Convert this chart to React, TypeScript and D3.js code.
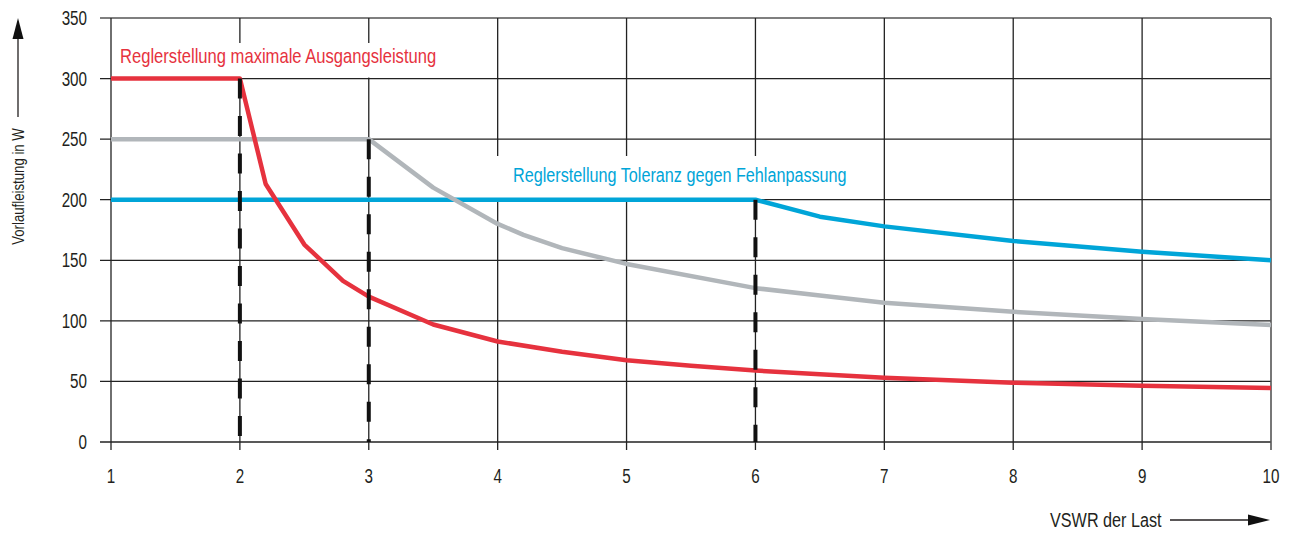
import React from "react";
import * as d3 from "d3";

const xTicks = [1, 2, 3, 4, 5, 6, 7, 8, 9, 10];
const yTicks = [0, 50, 100, 150, 200, 250, 300, 350];

const redSeries: [number, number][] = [
  [1, 300], [2, 300], [2.2, 213], [2.5, 163], [2.8, 133], [3, 120], [3.5, 97],
  [4, 83], [4.5, 74.5], [5, 67.5], [5.5, 63], [6, 59], [6.5, 56], [7, 53],
  [8, 49], [9, 46.5], [10, 44.5],
];
const greySeries: [number, number][] = [
  [1, 250], [3, 250], [3.5, 210], [4, 180], [4.2, 171], [4.5, 160], [5, 147],
  [6, 127], [6.5, 121], [7, 115], [8, 107.5], [9, 101.5], [10, 96.6],
];
const blueSeries: [number, number][] = [
  [1, 200], [6, 200], [6.5, 186], [7, 178], [8, 166], [9, 157], [10, 150],
];
// dashed limit markers: [VSWR, power from which the dashed line starts]
const limitMarkers: [number, number][] = [[2, 300], [3, 250], [6, 200]];

const redLabel = "Reglerstellung maximale Ausgangsleistung";
const blueLabel = "Reglerstellung Toleranz gegen Fehlanpassung";
const yTitle = "Vorlaufleistung in W";
const xTitle = "VSWR der Last";

const FONT = "'Liberation Sans', Arial, sans-serif";
const RED = "#e6323e";
const GREY = "#b1b6ba";
const BLUE = "#00a5d8";
const INK = "#231f20";

function NText(props: { x: number; y: number; rotate?: number; anchor?: string; size: number; fill: string; dy?: string; sx?: number; children: React.ReactNode }) {
  const { x, y, rotate = 0, anchor = "start", size, fill, dy, sx = 0.8, children } = props;
  return (
    <g transform={`translate(${x},${y}) rotate(${rotate}) scale(${sx},1)`}>
      <text x={0} y={0} dy={dy} textAnchor={anchor} fontSize={size} fill={fill}>{children}</text>
    </g>
  );
}

export default function App() {
  const W = 1292, H = 533;
  const x = d3.scaleLinear().domain([1, 10]).range([111, 1271]);
  const y = d3.scaleLinear().domain([0, 350]).range([442, 18]);
  const line = d3.line<[number, number]>().x(d => x(d[0])).y(d => y(d[1]));

  return (
    <svg width={W} height={H} style={{ position: "absolute", left: 0, top: 0, background: "#fff" }} fontFamily={FONT}>
      <rect width={W} height={H} fill="#fff" />
      {/* horizontal grid */}
      {yTicks.map(t => (
        <line key={"h" + t} x1={100} x2={x(10)} y1={y(t)} y2={y(t)}
          stroke={t === 350 ? "#555" : "#222"} strokeWidth={1.3} />
      ))}
      {/* vertical grid */}
      {xTicks.map(t => (
        <line key={"v" + t} x1={x(t)} x2={x(t)} y1={y(350)} y2={450}
          stroke={t === 10 ? "#555" : "#222"} strokeWidth={t === 10 ? 1.6 : 1.3} />
      ))}
      {/* label backgrounds */}
      <rect x={116} y={43} width={330} height={y(300) - 43 - 1} fill="#fff" />
      <rect x={490} y={156} width={365} height={y(200) - 156 - 1} fill="#fff" />
      <NText x={120} y={63} size={20} sx={0.83} fill={RED}>{redLabel}</NText>
      <NText x={513} y={182} size={20} sx={0.81} fill={BLUE}>{blueLabel}</NText>

      {/* y tick labels */}
      {yTicks.map(t => (
        <NText key={"yl" + t} x={87} y={y(t)} dy="0.36em" anchor="end" size={19.5} sx={0.78} fill={INK}>{t}</NText>
      ))}
      {/* x tick labels */}
      {xTicks.map(t => (
        <NText key={"xl" + t} x={x(t)} y={483} anchor="middle" size={19.5} sx={0.78} fill={INK}>{t}</NText>
      ))}

      {/* series */}
      <path d={line(blueSeries) || ""} fill="none" stroke={BLUE} strokeWidth={4.5} strokeLinejoin="round" />
      <path d={line(greySeries) || ""} fill="none" stroke={GREY} strokeWidth={4.5} strokeLinejoin="round" />
      <path d={line(redSeries) || ""} fill="none" stroke={RED} strokeWidth={4.5} strokeLinejoin="round" />

      {/* dashed limit lines */}
      {limitMarkers.map(([vx, vy]) => (
        <line key={"d" + vx} x1={x(vx)} x2={x(vx)} y1={y(vy)} y2={y(0)}
          stroke="#111" strokeWidth={4} strokeDasharray="20 17.5" />
      ))}

      {/* y axis title with arrow */}
      <NText x={24} y={186.5} rotate={-90} anchor="middle" size={16.5} sx={0.8} fill={INK}>{yTitle}</NText>
      <line x1={18} x2={18} y1={117} y2={36} stroke={INK} strokeWidth={1.3} />
      <polygon points="18,18 12.5,39 23.5,39" fill="#111" />

      {/* x axis title with arrow */}
      <NText x={1050} y={527} size={20} sx={0.81} fill={INK}>{xTitle}</NText>
      <line x1={1170} x2={1252} y1={520} y2={520} stroke={INK} strokeWidth={1.3} />
      <polygon points="1270,520 1248,514.5 1248,525.5" fill="#111" />
    </svg>
  );
}
